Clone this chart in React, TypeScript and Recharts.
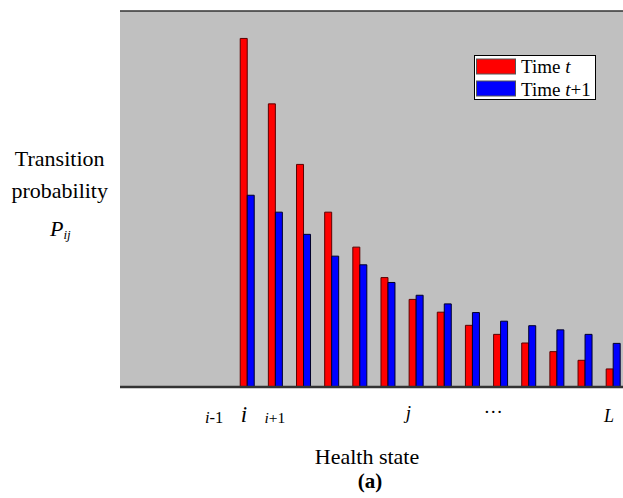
import React from 'react';
import { BarChart, Bar, XAxis, YAxis, CartesianGrid, Legend, ReferenceLine } from 'recharts';

// ---- data ----
const stateIndex = [1, 2, 3, 4, 5, 6, 7, 8, 9, 10, 11, 12, 13, 14];
const probTimeT = [0.927, 0.753, 0.592, 0.465, 0.372, 0.291, 0.233, 0.199, 0.164, 0.14, 0.117, 0.094, 0.071, 0.048];
const probTimeT1 = [0.51, 0.465, 0.406, 0.348, 0.325, 0.278, 0.244, 0.221, 0.198, 0.175, 0.163, 0.152, 0.14, 0.116];
const tickPositions = [-0.18, 0.88, 1.98, 6.72, 9.74, 13.85];
const tickLabels = ['i-1', 'i', 'i+1', 'j', '…', 'L'];
const seriesNames = ['Time t', 'Time t+1'];

const data = stateIndex.map((k, idx) => ({ k, t: probTimeT[idx], t1: probTimeT1[idx] }));

const FONT = '"Liberation Serif", "Times New Roman", serif';

const renderLabel = (label: string) => {
  if (label === 'i-1') return [<tspan key="a" fontStyle="italic">i</tspan>, <tspan key="b">-1</tspan>];
  if (label === 'i+1') return [<tspan key="a" fontStyle="italic">i</tspan>, <tspan key="b">+1</tspan>];
  if (label === '…') return label;
  return <tspan fontStyle="italic">{label}</tspan>;
};

const tickStyle: Record<string, { size: number; dy: number }> = {
  'i-1': { size: 16.5, dy: 36 },
  i: { size: 23, dy: 34.5 },
  'i+1': { size: 15.5, dy: 36 },
  j: { size: 19, dy: 32 },
  '…': { size: 19, dy: 26 },
  L: { size: 18, dy: 35 },
};

const StateTick = (props: any) => {
  const { x, y, payload } = props;
  const idx = tickPositions.findIndex((v) => Math.abs(v - payload.value) < 1e-6);
  if (idx < 0) return null;
  const label = tickLabels[idx];
  const st = tickStyle[label];
  return (
    <text x={x} y={y + st.dy} textAnchor="middle" fontSize={st.size} fontFamily={FONT} fill="#000">
      {renderLabel(label)}
    </text>
  );
};

const LegendBox = (props: any) => {
  const payload = props.payload || [];
  const colors = payload.length ? payload.map((p: any) => p.color) : ['#ff0000', '#0000ff'];
  return (
    <svg width={123} height={46} style={{ display: 'block' }}>
      <rect x={0.5} y={0.5} width={121} height={44} fill="#fff" stroke="#000" strokeWidth={1} />
      {seriesNames.map((name, i) => (
        <g key={name}>
          <rect x={2.5} y={4 + i * 22} width={39} height={15} fill={colors[i]} stroke="#555" strokeWidth={1} />
          <text x={47} y={17.5 + i * 23} fontSize={19} fontFamily={FONT} fill="#000">
            Time <tspan fontStyle="italic">t</tspan>
            {i === 1 ? '+1' : ''}
          </text>
        </g>
      ))}
    </svg>
  );
};

export default function App() {
  return (
    <div style={{ position: 'absolute', left: 0, top: 0, width: 623, height: 498, background: '#fff' }}>
      <BarChart
        width={623}
        height={498}
        data={data}
        margin={{ top: 11, right: 0, left: 120, bottom: 51 }}
        barGap={0}
        style={{ fontFamily: FONT }}
      >
        <CartesianGrid horizontal={false} vertical={false} fill="#c0c0c0" />
        <XAxis
          type="number"
          dataKey="k"
          domain={[-3.522, 14.346]}
          allowDataOverflow
          ticks={tickPositions}
          interval={0}
          tick={<StateTick />}
          tickLine={false}
          tickSize={0}
          tickMargin={0}
          height={60}
          axisLine={{ stroke: '#333', strokeWidth: 2.3 }}
        />
        <YAxis
          type="number"
          domain={[0, 1]}
          width={0}
          tick={false}
          tickLine={false}
          axisLine={{ stroke: '#000', strokeWidth: 2 }}
        />
        <ReferenceLine y={1} stroke="#333" strokeWidth={1.5} />
        <Legend
          verticalAlign="middle"
          align="center"
          layout="horizontal"
          content={<LegendBox />}
          wrapperStyle={{ left: 474, top: 55, width: 123, height: 46, bottom: 'auto' }}
        />
        <Bar dataKey="t" name={seriesNames[0]} fill="#ff0000" stroke="#5a0000" strokeWidth={1} barSize={7} isAnimationActive={false} />
        <Bar dataKey="t1" name={seriesNames[1]} fill="#0000ff" stroke="#000028" strokeWidth={1} barSize={7} isAnimationActive={false} />
      </BarChart>
      <svg
        width={623}
        height={498}
        style={{ position: 'absolute', left: 0, top: 0, pointerEvents: 'none' }}
        fontFamily={FONT}
      >
        <text x={59.7} y={166} textAnchor="middle" fontSize={22} fill="#000">Transition</text>
        <text x={59.7} y={198} textAnchor="middle" fontSize={22} fill="#000">probability</text>
        <text x={50} y={236} fontSize={22} fontStyle="italic" fill="#000">
          P<tspan fontSize={13} dy={3}>ij</tspan>
        </text>
        <text x={367} y={464} textAnchor="middle" fontSize={22} fill="#000">Health state</text>
        <text x={370} y={488} textAnchor="middle" fontSize={21} fontWeight="bold" fill="#000">(a)</text>
      </svg>
    </div>
  );
}
